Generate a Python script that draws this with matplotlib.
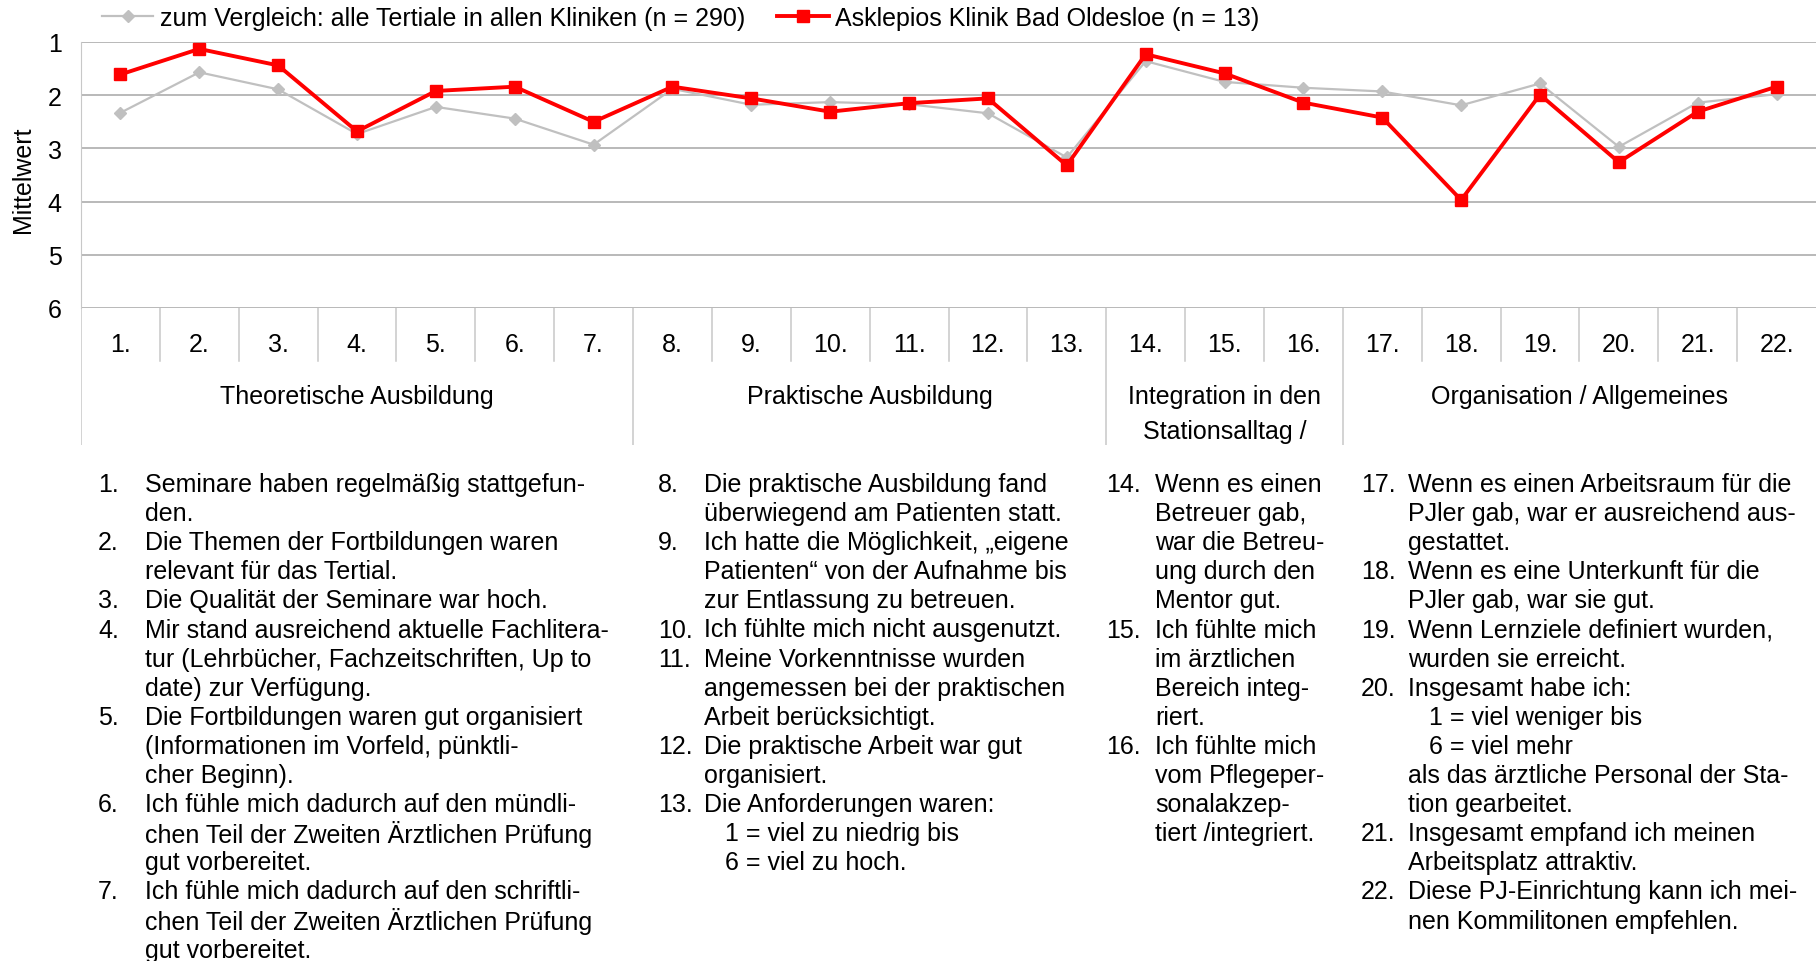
import matplotlib
matplotlib.use("Agg")
import matplotlib.pyplot as plt
from matplotlib.lines import Line2D

plt.rcParams['font.family'] = ['Liberation Sans', 'DejaVu Sans']

# Daten
items = [str(i) + "." for i in range(1, 23)]
alle_kliniken = [2.33, 1.57, 1.89, 2.73, 2.22, 2.44, 2.93, 1.88, 2.18, 2.13, 2.17,
                 2.34, 3.17, 1.36, 1.75, 1.86, 1.93, 2.19, 1.78, 2.97, 2.14, 1.98]
bad_oldesloe = [1.61, 1.13, 1.44, 2.68, 1.92, 1.84, 2.50, 1.84, 2.06, 2.31, 2.15,
                2.06, 3.32, 1.23, 1.59, 2.14, 2.42, 3.97, 1.99, 3.26, 2.31, 1.84]
label_alle = "zum Vergleich: alle Tertiale in allen Kliniken (n = 290)"
label_klinik = "Asklepios Klinik Bad Oldesloe (n = 13)"

gruppen = [("Theoretische Ausbildung", 1, 7),
           ("Praktische Ausbildung", 8, 13),
           ("Integration in den\nStationsalltag /", 14, 16),
           ("Organisation / Allgemeines", 17, 22)]

spalte1 = [("1.", ["Seminare haben regelmäßig stattgefun-", "den."]),
           ("2.", ["Die Themen der Fortbildungen waren", "relevant für das Tertial."]),
           ("3.", ["Die Qualität der Seminare war hoch."]),
           ("4.", ["Mir stand ausreichend aktuelle Fachlitera-",
                   "tur (Lehrbücher, Fachzeitschriften, Up to", "date) zur Verfügung."]),
           ("5.", ["Die Fortbildungen waren gut organisiert",
                   "(Informationen im Vorfeld, pünktli-", "cher Beginn)."]),
           ("6.", ["Ich fühle mich dadurch auf den mündli-",
                   "chen Teil der Zweiten Ärztlichen Prüfung", "gut vorbereitet."]),
           ("7.", ["Ich fühle mich dadurch auf den schriftli-",
                   "chen Teil der Zweiten Ärztlichen Prüfung", "gut vorbereitet."])]
spalte2 = [("8.", ["Die praktische Ausbildung fand", "überwiegend am Patienten statt."]),
           ("9.", ["Ich hatte die Möglichkeit, „eigene",
                   "Patienten“ von der Aufnahme bis", "zur Entlassung zu betreuen."]),
           ("10.", ["Ich fühlte mich nicht ausgenutzt."]),
           ("11.", ["Meine Vorkenntnisse wurden", "angemessen bei der praktischen",
                    "Arbeit berücksichtigt."]),
           ("12.", ["Die praktische Arbeit war gut", "organisiert."]),
           ("13.", ["Die Anforderungen waren:", "   1 = viel zu niedrig bis",
                    "   6 = viel zu hoch."])]
spalte3 = [("14.", ["Wenn es einen", "Betreuer gab,", "war die Betreu-",
                    "ung durch den", "Mentor gut."]),
           ("15.", ["Ich fühlte mich", "im ärztlichen", "Bereich integ-", "riert."]),
           ("16.", ["Ich fühlte mich", "vom Pflegeper-", "sonalakzep-",
                    "tiert /integriert."])]
spalte4 = [("17.", ["Wenn es einen Arbeitsraum für die",
                    "PJler gab, war er ausreichend aus-", "gestattet."]),
           ("18.", ["Wenn es eine Unterkunft für die", "PJler gab, war sie gut."]),
           ("19.", ["Wenn Lernziele definiert wurden,", "wurden sie erreicht."]),
           ("20.", ["Insgesamt habe ich:", "   1 = viel weniger bis", "   6 = viel mehr",
                    "als das ärztliche Personal der Sta-", "tion gearbeitet."]),
           ("21.", ["Insgesamt empfand ich meinen", "Arbeitsplatz attraktiv."]),
           ("22.", ["Diese PJ-Einrichtung kann ich mei-", "nen Kommilitonen empfehlen."])]

W, H = 1816, 962
fs = 18
fig = plt.figure(figsize=(W / 100, H / 100), dpi=100)

def fx(px):
    return px / W

def fy(py):
    return 1 - py / H

# Diagramm
ax = fig.add_axes([fx(81), fy(309), 1 - fx(81), fy(43) - fy(309)])
x = list(range(1, 23))
ax.plot(x, alle_kliniken, color='#c0c0c0', lw=1.6, marker='D', ms=6.5,
        mfc='#c0c0c0', mec='#c0c0c0', zorder=3)
ax.plot(x, bad_oldesloe, color='#ff0000', lw=2.8, marker='s', ms=8.5,
        mfc='#ff0000', mec='#ff0000', zorder=4)
ax.set_xlim(0.5, 22.5)
ax.set_ylim(6, 1)
ax.set_yticks([1, 2, 3, 4, 5, 6])
ax.set_xticks([])
ax.tick_params(axis='y', length=0, labelsize=fs, pad=14)
ax.grid(axis='y', color='#a6a6a6', lw=1.1)
for s in ['top', 'right', 'bottom']:
    ax.spines[s].set_visible(False)
ax.spines['left'].set_color('#c8c8c8')
ax.set_axisbelow(True)
fig.text(fx(23), fy(180), "Mittelwert", rotation=90, ha='center', va='center', fontsize=fs)

# Kategorienbereich unter dem Diagramm
cx = fig.add_axes([fx(81), fy(446), 1 - fx(81), fy(309) - fy(446)])
cx.set_xlim(0.5, 22.5)
cx.set_ylim(446, 309)
cx.axis('off')
cx.plot([0.5, 0.5], [309, 446], color='#c8c8c8', lw=1.1)
grenzen = [g[2] + 0.5 for g in gruppen[:-1]]
for i in range(1, 22):
    b = i + 0.5
    unten = 446 if b in grenzen else 362
    cx.plot([b, b], [309, unten], color='#c8c8c8', lw=1.1)
for i, t in enumerate(items):
    cx.text(i + 1, 345, t, ha='center', va='center', fontsize=fs)
for name, a, b in gruppen:
    for k, zeile in enumerate(name.split("\n")):
        cx.text((a + b) / 2, 397 + k * 35, zeile, ha='center', va='center', fontsize=fs)

# Legende
handles = [Line2D([], [], color='#c0c0c0', lw=1.6, marker='D', ms=6.5),
           Line2D([], [], color='#ff0000', lw=2.8, marker='s', ms=8.5)]
fig.legend(handles, [label_alle, label_klinik], loc='center left',
           bbox_to_anchor=(fx(102), fy(19)), ncol=2, frameon=False, fontsize=fs,
           handlelength=2.05, handletextpad=0.25, columnspacing=1.3,
           borderpad=0, borderaxespad=0)

# Erläuterungen
zeilenhoehe = 29.1
def spalte(eintraege, xn, xt):
    y = 485
    for nr, zeilen in eintraege:
        fig.text(fx(xn), fy(y), nr, ha='left', va='center', fontsize=fs)
        for z in zeilen:
            fig.text(fx(xt), fy(y), z, ha='left', va='center', fontsize=fs)
            y += zeilenhoehe

spalte(spalte1, 98, 145)
spalte(spalte2, 658, 704)
spalte(spalte3, 1106, 1155)
spalte(spalte4, 1361, 1408)

fig.savefig("out.png", dpi=100)
